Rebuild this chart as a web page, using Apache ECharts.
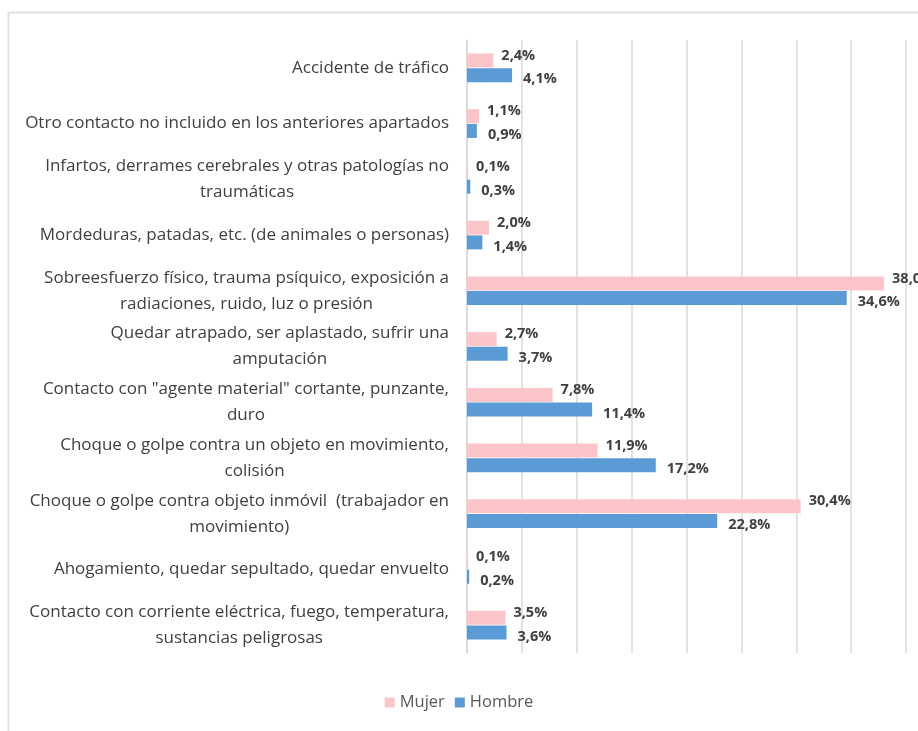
<!DOCTYPE html>
<html lang="es">

<head>
	<meta charset="UTF-8">
	<script src="https://cdn.jsdelivr.net/npm/echarts@6/dist/echarts.min.js"></script>
	<title>accidentes</title>
	<style>
		html, body { margin: 0; padding: 0; background: #fff; }
		#chart { width: 918px; height: 731px; }
	</style>
</head>

<body>
	<div id="chart"></div>
	<script>
		// categorías de arriba a abajo (con los saltos de línea del original)
		var categories = [
			'Accidente de tráfico',
			'Otro contacto no incluido en los anteriores apartados',
			'Infartos, derrames cerebrales y otras patologías no\ntraumáticas',
			'Mordeduras, patadas, etc. (de animales o personas)',
			'Sobreesfuerzo físico, trauma psíquico, exposición a\nradiaciones, ruido, luz o presión',
			'Quedar atrapado, ser aplastado, sufrir una\namputación',
			'Contacto con "agente material" cortante, punzante,\nduro',
			'Choque o golpe contra un objeto en movimiento,\ncolisión',
			'Choque o golpe contra objeto inmóvil  (trabajador en\nmovimiento)',
			'Ahogamiento, quedar sepultado, quedar envuelto',
			'Contacto con corriente eléctrica, fuego, temperatura,\nsustancias peligrosas'
		];
		var mujer = [2.4, 1.1, 0.1, 2.0, 38.0, 2.7, 7.8, 11.9, 30.4, 0.1, 3.5];
		var hombre = [4.1, 0.9, 0.3, 1.4, 34.6, 3.7, 11.4, 17.2, 22.8, 0.2, 3.6];

		var chart = echarts.init(document.getElementById('chart'));

		function pct(p) {
			return p.value.toFixed(1).replace('.', ',') + '%';
		}

		var option = {
			animation: false,
			textStyle: { fontFamily: '"Open Sans", sans-serif' },
			graphic: [{
				type: 'rect',
				shape: { x: 8.5, y: 12.5, width: 930, height: 740 },
				style: { fill: 'none', stroke: '#e2e2e2', lineWidth: 2 },
				silent: true
			}],
			legend: {
				bottom: 15,
				left: 'center',
				icon: 'rect',
				itemWidth: 10,
				itemHeight: 10,
				itemGap: 10,
				textStyle: { color: '#595959', fontSize: 16.5 },
				data: ['Mujer', 'Hombre']
			},
			grid: { left: 467, right: 12, top: 40, bottom: 78 },
			xAxis: {
				type: 'value',
				min: 0,
				max: 40,
				interval: 5,
				axisLabel: { show: false },
				axisLine: { show: false },
				axisTick: { show: false },
				splitLine: { lineStyle: { color: '#d9d9d9', width: 1.5 } }
			},
			yAxis: {
				type: 'category',
				inverse: true,
				data: categories,
				axisTick: { show: false },
				axisLine: { lineStyle: { color: '#d9d9d9', width: 1.5 } },
				axisLabel: {
					margin: 18,
					color: '#404040',
					fontSize: 17,
					lineHeight: 26,
					align: 'right',
					formatter: function (v) {
						return v.split('\n').map(function (s) { return '{c|' + s + '}'; }).join('\n');
					},
					rich: {
						c: { align: 'center', color: '#404040', fontSize: 17, lineHeight: 26 }
					}
				}
			},
			series: [
				{
					name: 'Mujer',
					type: 'bar',
					data: mujer,
					barWidth: 14,
					barGap: '5%',
					itemStyle: { color: '#fbc5ca' },
					label: {
						show: true,
						position: 'right',
						distance: 8,
						offset: [0, -5],
						color: '#404040',
						fontWeight: 'bold',
						fontSize: 14.5,
						formatter: pct
					}
				},
				{
					name: 'Hombre',
					type: 'bar',
					data: hombre,
					barWidth: 14,
					itemStyle: { color: '#5b9bd5' },
					label: {
						show: true,
						position: 'right',
						distance: 11,
						offset: [0, 4],
						color: '#404040',
						fontWeight: 'bold',
						fontSize: 14.5,
						formatter: pct
					}
				}
			]
		};
		chart.setOption(option);
	</script>
</body>

</html>
